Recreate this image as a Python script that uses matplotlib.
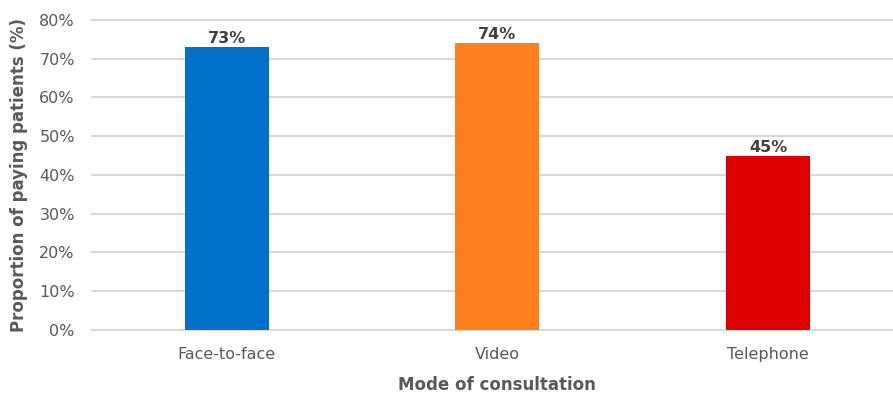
import matplotlib.pyplot as plt
from matplotlib.ticker import PercentFormatter

modes = ["Face-to-face", "Video", "Telephone"]
paying = [73, 74, 45]
colors = ["#0070C8", "#FF7F1E", "#DE0000"]

fig = plt.figure(figsize=(8.93, 3.96), dpi=100)
ax = fig.add_axes([0.1025, 0.1667, 0.909, 0.783])

x = range(len(modes))
bars = ax.bar(x, paying, width=0.31, color=colors, zorder=3)
for b, v in zip(bars, paying):
    ax.text(b.get_x() + b.get_width() / 2, v + 0.2, f"{v}%", ha="center", va="bottom",
            fontsize=11.5, fontweight="bold", color="#404040")

ax.set_xlim(-0.5, 2.5)
ax.set_ylim(0, 80)
ax.set_yticks(range(0, 81, 10))
ax.yaxis.set_major_formatter(PercentFormatter(decimals=0))
ax.set_xticks(list(x))
ax.set_xticklabels(modes)
ax.tick_params(axis="both", length=0, labelsize=11.5, labelcolor="#595959")
ax.tick_params(axis="x", pad=12)
ax.tick_params(axis="y", pad=12)
ax.grid(axis="y", color="#D9D9D9", linewidth=1.5, zorder=0)
for gl in ax.get_ygridlines():
    gl.set_clip_on(False)
for s in ax.spines.values():
    s.set_visible(False)

ax.set_ylabel("Proportion of paying patients (%)", fontsize=12, fontweight="bold",
              color="#595959", labelpad=8)
ax.set_xlabel("Mode of consultation", fontsize=12, fontweight="bold", color="#595959", labelpad=10)

fig.savefig("out.png", dpi=100)
